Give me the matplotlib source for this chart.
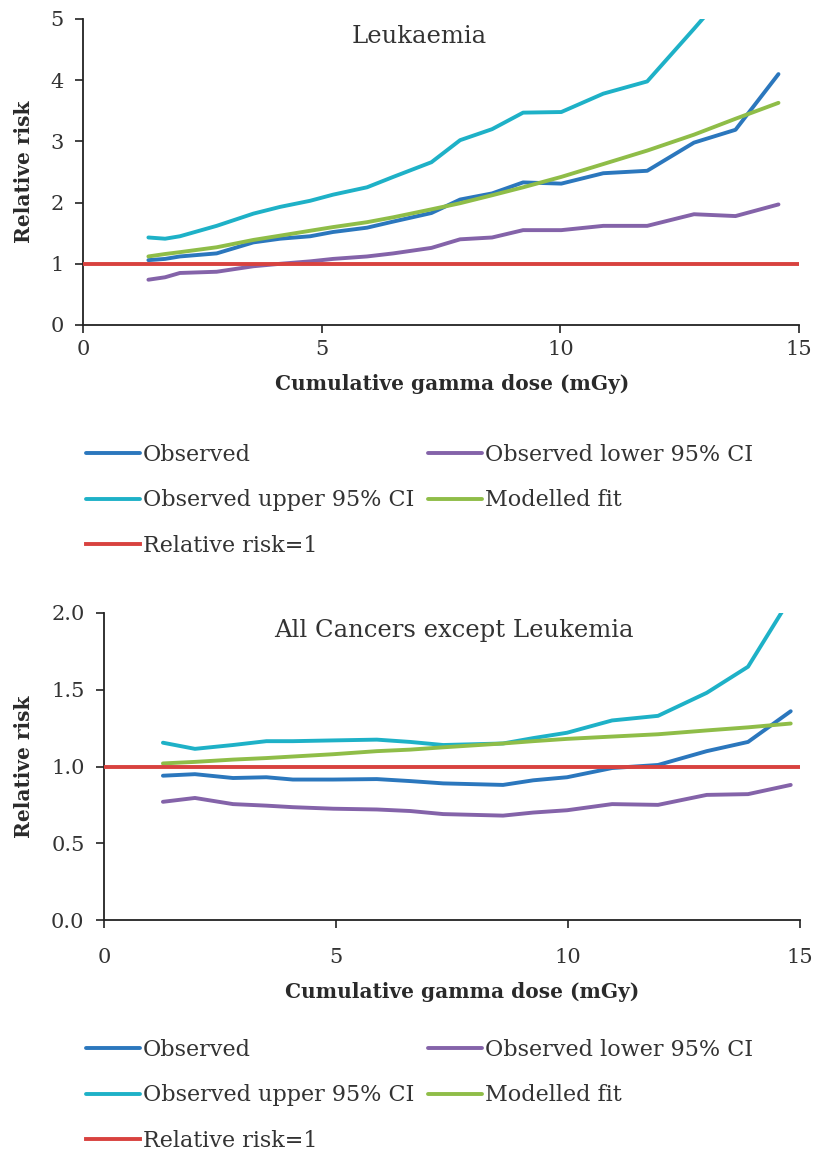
import matplotlib
matplotlib.use('Agg')
import matplotlib.pyplot as plt
import numpy as np

plt.rcParams['font.family'] = ['DejaVu Serif']

# Leukaemia panel
dose_leuk = [1.37, 1.72, 2.03, 2.8, 3.57, 4.13, 4.76, 5.24, 5.95, 6.5,
             7.3, 7.9, 8.57, 9.22, 10.02, 10.9, 11.82, 12.8, 13.67, 14.57]
obs_leuk = [1.06, 1.08, 1.12, 1.17, 1.35, 1.41, 1.45, 1.52, 1.59, 1.69,
            1.83, 2.05, 2.15, 2.33, 2.31, 2.48, 2.52, 2.98, 3.19, 4.10]
lower_leuk = [0.74, 0.78, 0.85, 0.87, 0.96, 1.00, 1.04, 1.08, 1.12, 1.17,
              1.26, 1.40, 1.43, 1.55, 1.55, 1.62, 1.62, 1.81, 1.78, 1.97]
upper_leuk = [1.43, 1.41, 1.45, 1.62, 1.82, 1.93, 2.03, 2.13, 2.25, 2.42,
              2.66, 3.02, 3.20, 3.47, 3.48, 3.78, 3.98, 4.84, 5.62, np.nan]
fit_leuk = [1.12, 1.16, 1.19, 1.27, 1.39, 1.46, 1.54, 1.60, 1.68, 1.76,
            1.89, 1.99, 2.12, 2.25, 2.42, 2.63, 2.85, 3.11, 3.37, 3.63]

# All cancers except leukaemia panel
dose_all = [1.27, 1.96, 2.78, 3.5, 4.07, 4.94, 5.88, 6.6, 7.31, 8.6,
            9.25, 9.98, 10.95, 11.94, 12.99, 13.88, 14.8]
obs_all = [0.94, 0.95, 0.925, 0.93, 0.915, 0.915, 0.918, 0.905, 0.89, 0.88,
           0.91, 0.93, 0.99, 1.01, 1.10, 1.16, 1.36]
lower_all = [0.77, 0.795, 0.755, 0.745, 0.735, 0.725, 0.72, 0.71, 0.69, 0.68,
             0.70, 0.715, 0.755, 0.75, 0.815, 0.82, 0.88]
upper_all = [1.155, 1.115, 1.14, 1.165, 1.165, 1.17, 1.175, 1.16, 1.14, 1.15,
             1.185, 1.22, 1.30, 1.33, 1.48, 1.65, 2.10]
fit_all = [1.02, 1.03, 1.045, 1.055, 1.065, 1.08, 1.10, 1.11, 1.125, 1.15,
           1.165, 1.18, 1.195, 1.21, 1.235, 1.255, 1.28]

rr_x = [0, 15]
rr_y = [1, 1]

c_obs = '#2b77bd'
c_low = '#8463a9'
c_up = '#1eb1c7'
c_fit = '#8fbd48'
c_rr = '#d8423f'
lw = 2.8


def draw_panel(ax, dose, obs, lower, upper, fit, ylim, yticks, yfmt, title,
               xpad, xlab_y, ylab_x, title_x, legend_top):
    l_obs, = ax.plot(dose, obs, color=c_obs, lw=lw, solid_capstyle='round', label='Observed')
    l_low, = ax.plot(dose, lower, color=c_low, lw=lw, solid_capstyle='round', label='Observed lower 95% CI')
    l_up, = ax.plot(dose, upper, color=c_up, lw=lw, solid_capstyle='round', label='Observed upper 95% CI')
    l_fit, = ax.plot(dose, fit, color=c_fit, lw=lw, solid_capstyle='round', label='Modelled fit')
    l_rr, = ax.plot(rr_x, rr_y, color=c_rr, lw=lw, label='Relative risk=1')

    ax.set_xlim(0, 15)
    ax.set_ylim(*ylim)
    ax.set_xticks([0, 5, 10, 15])
    ax.set_yticks(yticks)
    ax.set_yticklabels([yfmt % v for v in yticks])
    for s in ['top', 'right']:
        ax.spines[s].set_visible(False)
    for s in ['left', 'bottom']:
        ax.spines[s].set_linewidth(1.3)
        ax.spines[s].set_color('#222222')
    ax.spines['left'].set_zorder(0.5)
    ax.tick_params(axis='both', direction='out', length=6, width=1.2, colors='#222222',
                   labelsize=15, labelcolor='#333333')
    ax.tick_params(axis='y', pad=8)
    ax.tick_params(axis='x', pad=xpad)

    ax.set_xlabel('Cumulative gamma dose (mGy)', fontsize=14.5, fontweight='bold', color='#2a2a2a')
    ax.xaxis.set_label_coords(0.515, xlab_y)
    ax.xaxis.label.set_va('center')
    ax.set_ylabel('Relative risk', fontsize=14.5, fontweight='bold', color='#2a2a2a')
    ax.yaxis.set_label_coords(ylab_x, 0.5)
    ax.yaxis.label.set_va('center')

    ax.text(title_x, 0.922, title, transform=ax.transAxes, ha='center', va='baseline',
            fontsize=17.5, color='#333333')

    leg = ax.legend([l_obs, l_up, l_rr, l_low, l_fit],
                    ['Observed', 'Observed upper 95% CI', 'Relative risk=1',
                     'Observed lower 95% CI', 'Modelled fit'],
                    ncol=2, loc='upper left', bbox_to_anchor=(86 / 816, legend_top),
                    bbox_transform=ax.figure.transFigure, frameon=False, borderpad=0,
                    borderaxespad=0, fontsize=16, handlelength=2.43, handletextpad=0.14,
                    columnspacing=0.6, labelspacing=1.05)
    for t in leg.get_texts():
        t.set_color('#333333')


fig = plt.figure(figsize=(8.16, 11.53), dpi=100)

ax1 = fig.add_axes([83 / 816, 1 - 325 / 1153, 716 / 816, 306 / 1153])
draw_panel(ax1, dose_leuk, obs_leuk, lower_leuk, upper_leuk, fit_leuk,
           (0, 5), [0, 1, 2, 3, 4, 5], '%d', 'Leukaemia',
           xpad=5, xlab_y=-0.193, ylab_x=-0.0824, title_x=0.47,
           legend_top=1 - 444 / 1153)

ax2 = fig.add_axes([104 / 816, 1 - 920 / 1153, 696 / 816, 307 / 1153])
draw_panel(ax2, dose_all, obs_all, lower_all, upper_all, fit_all,
           (0, 2), [0, 0.5, 1.0, 1.5, 2.0], '%.1f', 'All Cancers except Leukemia',
           xpad=14, xlab_y=-0.235, ylab_x=-0.115, title_x=0.503,
           legend_top=1 - 1039 / 1153)

fig.savefig('out.png', dpi=100)
